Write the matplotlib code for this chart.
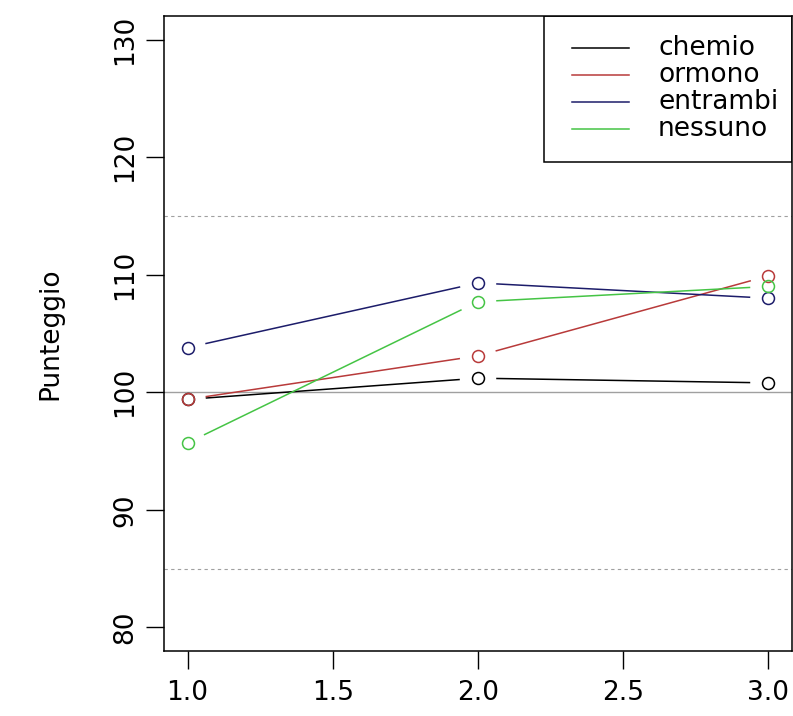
import matplotlib
matplotlib.use('Agg')
import matplotlib.pyplot as plt
import numpy as np

plt.rcParams['font.family'] = ['DejaVu Sans']

# dati
tempi = [1, 2, 3]
chemio = [99.4, 101.2, 100.8]
ormono = [99.4, 103.1, 109.9]
entrambi = [103.8, 109.3, 108.0]
nessuno = [95.7, 107.7, 109.0]
gruppi = ['chemio', 'ormono', 'entrambi', 'nessuno']
colori = ['black', '#b83a3a', '#1c1c6a', '#45c445']
yticks = [80, 90, 100, 110, 120, 130]
xticks = [1.0, 1.5, 2.0, 2.5, 3.0]

fig = plt.figure(figsize=(7.93, 7.16), dpi=100)
ax = fig.add_axes([164.3 / 793, 65 / 716, 627.4 / 793, 635 / 716])
ax.set_xlim(0.92, 3.08)
ax.set_ylim(78, 132)

ax.axhline(100, color='#a0a0a0', lw=1.0, zorder=1)
ax.axhline(115, color='#a0a0a0', lw=0.8, ls=(0, (3, 3)), zorder=1)
ax.axhline(85, color='#a0a0a0', lw=0.8, ls=(0, (3, 3)), zorder=1)

# tipo "b" come in R: segmenti interrotti vicino ai punti
gap = 19
serie = [chemio, ormono, entrambi, nessuno]
for vals, col in zip(serie, colori):
    pix = ax.transData.transform(np.column_stack([tempi, vals]))
    for i in range(len(pix) - 1):
        p0, p1 = pix[i], pix[i + 1]
        u = (p1 - p0) / np.hypot(*(p1 - p0))
        seg = ax.transData.inverted().transform([p0 + u * gap, p1 - u * gap])
        ax.plot(seg[:, 0], seg[:, 1], color=col, lw=1.1, zorder=2)
    ax.plot(tempi, vals, 'o', mfc='none', mec=col, ms=8.6, mew=1.1, zorder=3)

ax.set_xticks(xticks)
ax.set_xticklabels(['%.1f' % t for t in xticks])
ax.set_yticks(yticks)
ax.set_yticklabels([str(t) for t in yticks], rotation=90, va='center')
ax.tick_params(direction='out', length=13, width=1.0, labelsize=19, pad=6)
ax.tick_params(axis='x', pad=8)
for s in ax.spines.values():
    s.set_linewidth(1.1)
ax.set_ylabel('Punteggio', fontsize=19, labelpad=35)

# legenda disegnata a mano, stile R
ax.add_patch(plt.Rectangle((0.605, 0.770), 0.395, 0.230, transform=ax.transAxes,
                           fill=False, ec='black', lw=1.1, zorder=4))
righe = [0.9496, 0.907, 0.8646, 0.822]
for nome, col, yy in zip(gruppi, colori, righe):
    ax.plot([0.650, 0.741], [yy, yy], color=col, lw=1.1, transform=ax.transAxes, zorder=4)
    ax.text(0.787, yy, nome, transform=ax.transAxes, fontsize=19, va='center', ha='left', zorder=4)

fig.savefig('out.png', dpi=100)
